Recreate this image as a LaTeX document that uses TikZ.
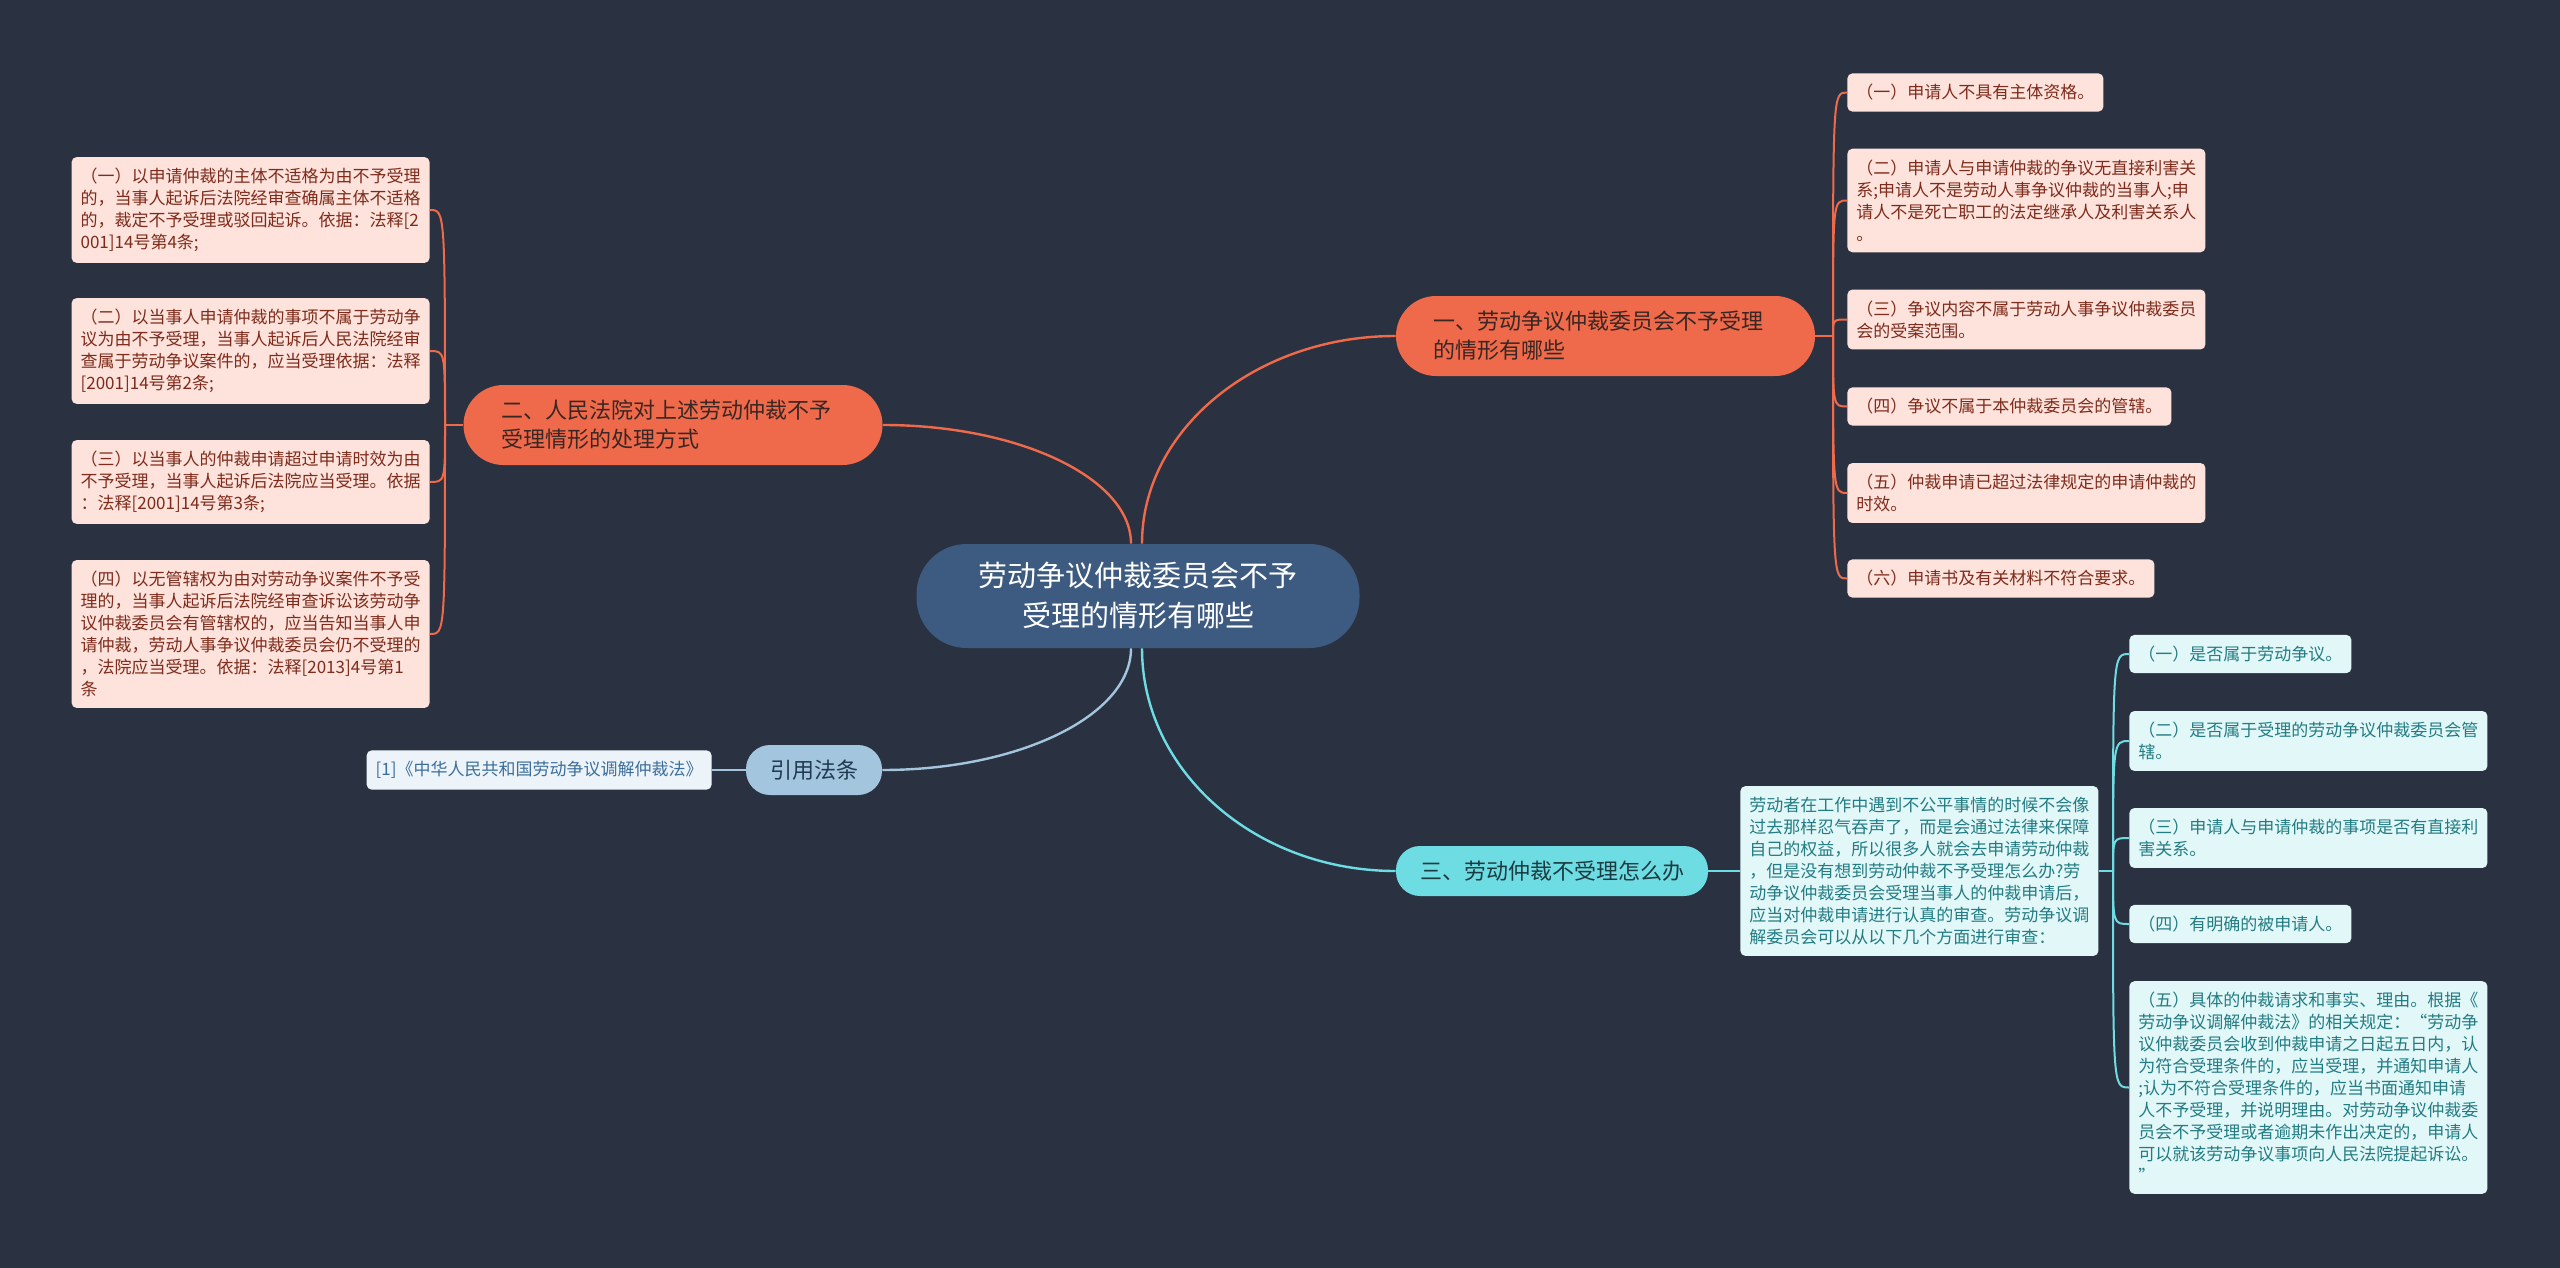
\documentclass[tikz,border=0pt]{standalone}
\usepackage{fontspec}
\setmainfont{Noto Sans CJK SC}
\usepackage{xcolor}
\definecolor{mapBg}{HTML}{2A3140}
\definecolor{mapRoot}{HTML}{3D5A80}
\definecolor{mapOrange}{HTML}{EE6A4A}
\definecolor{mapOrangeLeaf}{HTML}{FDE3DC}
\definecolor{mapOrangeText}{HTML}{7F2B1B}
\definecolor{mapOrangeDark}{HTML}{3A2623}
\definecolor{mapCyan}{HTML}{6EDCE3}
\definecolor{mapCyanLeaf}{HTML}{E2F7F8}
\definecolor{mapCyanText}{HTML}{237C83}
\definecolor{mapCyanDark}{HTML}{1C3B40}
\definecolor{mapBlue}{HTML}{A3C6DE}
\definecolor{mapBlueLeaf}{HTML}{ECF4F9}
\definecolor{mapBlueText}{HTML}{3C6E9C}
\definecolor{mapBlueDark}{HTML}{213A52}

\tikzset{
  rootnode/.style={rectangle, rounded corners=25pt, fill=mapRoot, text=white, align=center,
    minimum width=221.5pt, minimum height=52pt, font=\fontsize{14.5}{20}\selectfont},
  topicnode/.style={rectangle, rounded corners=12pt, align=left, minimum height=25pt,
    inner xsep=12pt, font=\fontsize{11}{14.5}\selectfont},
  widetopic/.style={text width=172pt, inner xsep=18.75pt, minimum height=40pt, rounded corners=20pt},
  leafnode/.style={rectangle, rounded corners=2.5pt, align=left, inner xsep=4.5pt, inner ysep=5.5pt,
    font=\fontsize{8.5}{11}\selectfont},
  orangeleaf/.style={leafnode, fill=mapOrangeLeaf, text=mapOrangeText},
  cyanleaf/.style={leafnode, fill=mapCyanLeaf, text=mapCyanText},
  wideleaf/.style={text width=170pt},
  orangeline/.style={mapOrange, line width=1.2pt},
  cyanline/.style={mapCyan, line width=1.2pt},
  blueline/.style={mapBlue, line width=1.2pt}
}

\begin{document}
\begin{tikzpicture}[x=0.5pt, y=-0.5pt]
  \fill[mapBg] (0,0) rectangle (2560,1268);

  % centre
  \node[rootnode] (root) at (1138,596) {劳动争议仲裁委员会不予\\受理的情形有哪些};

  % main topics
  \node[topicnode, widetopic, fill=mapOrange, text=mapOrangeDark] (topicA) at (1605.5,336) {一、劳动争议仲裁委员会不予受理\\的情形有哪些};
  \node[topicnode, widetopic, fill=mapOrange, text=mapOrangeDark] (topicB) at (673,425) {二、人民法院对上述劳动仲裁不予\\受理情形的处理方式};
  \node[topicnode, fill=mapCyan, text=mapCyanDark, minimum width=156pt] (topicC) at (1552,871) {三、劳动仲裁不受理怎么办};
  \node[topicnode, fill=mapBlue, text=mapBlueDark, minimum width=68pt] (topicLaw) at (814,770) {引用法条};

  % leaves of topic A
  \node[orangeleaf, anchor=west] (a1) at (1847,92.5) {（一）申请人不具有主体资格。};
  \node[orangeleaf, wideleaf, anchor=west] (a2) at (1847,200.5) {（二）申请人与申请仲裁的争议无直接利害关\\系;申请人不是劳动人事争议仲裁的当事人;申\\请人不是死亡职工的法定继承人及利害关系人\\。};
  \node[orangeleaf, wideleaf, anchor=west] (a3) at (1847,319.5) {（三）争议内容不属于劳动人事争议仲裁委员\\会的受案范围。};
  \node[orangeleaf, anchor=west] (a4) at (1847,406.5) {（四）争议不属于本仲裁委员会的管辖。};
  \node[orangeleaf, wideleaf, anchor=west] (a5) at (1847,493) {（五）仲裁申请已超过法律规定的申请仲裁的\\时效。};
  \node[orangeleaf, anchor=west] (a6) at (1847,578.5) {（六）申请书及有关材料不符合要求。};

  % leaves of topic B
  \node[orangeleaf, wideleaf, anchor=east] (b1) at (430,210) {（一）以申请仲裁的主体不适格为由不予受理\\的，当事人起诉后法院经审查确属主体不适格\\的，裁定不予受理或驳回起诉。依据：法释[2\\001]14号第4条;};
  \node[orangeleaf, wideleaf, anchor=east] (b2) at (430,351) {（二）以当事人申请仲裁的事项不属于劳动争\\议为由不予受理，当事人起诉后人民法院经审\\查属于劳动争议案件的，应当受理依据：法释\\{}[2001]14号第2条;};
  \node[orangeleaf, wideleaf, anchor=east] (b3) at (430,482) {（三）以当事人的仲裁申请超过申请时效为由\\不予受理，当事人起诉后法院应当受理。依据\\：法释[2001]14号第3条;};
  \node[orangeleaf, wideleaf, anchor=east] (b4) at (430,634) {（四）以无管辖权为由对劳动争议案件不予受\\理的，当事人起诉后法院经审查诉讼该劳动争\\议仲裁委员会有管辖权的，应当告知当事人申\\请仲裁，劳动人事争议仲裁委员会仍不受理的\\，法院应当受理。依据：法释[2013]4号第1\\条};

  % topic C
  \node[cyanleaf, wideleaf, anchor=west] (c0) at (1740,871) {劳动者在工作中遇到不公平事情的时候不会像\\过去那样忍气吞声了，而是会通过法律来保障\\自己的权益，所以很多人就会去申请劳动仲裁\\，但是没有想到劳动仲裁不予受理怎么办?劳\\动争议仲裁委员会受理当事人的仲裁申请后，\\应当对仲裁申请进行认真的审查。劳动争议调\\解委员会可以从以下几个方面进行审查：};
  \node[cyanleaf, anchor=west] (c1) at (2129,654) {（一）是否属于劳动争议。};
  \node[cyanleaf, wideleaf, anchor=west] (c2) at (2129,741) {（二）是否属于受理的劳动争议仲裁委员会管\\辖。};
  \node[cyanleaf, wideleaf, anchor=west] (c3) at (2129,838) {（三）申请人与申请仲裁的事项是否有直接利\\害关系。};
  \node[cyanleaf, anchor=west] (c4) at (2129,924) {（四）有明确的被申请人。};
  \node[cyanleaf, wideleaf, anchor=west] (c5) at (2129,1087.5) {（五）具体的仲裁请求和事实、理由。根据《\\劳动争议调解仲裁法》的相关规定：“劳动争\\议仲裁委员会收到仲裁申请之日起五日内，认\\为符合受理条件的，应当受理，并通知申请人\\;认为不符合受理条件的，应当书面通知申请\\人不予受理，并说明理由。对劳动争议仲裁委\\员会不予受理或者逾期未作出决定的，申请人\\可以就该劳动争议事项向人民法院提起诉讼。\\”};

  % law reference
  \node[leafnode, fill=mapBlueLeaf, text=mapBlueText, anchor=east] (law1) at (712,770) {[1]《中华人民共和国劳动争议调解仲裁法》};

  % root connectors
  \draw[orangeline] ([xshift=2pt]root.north) .. controls +(0,-114) and +(-140,0) .. (topicA.west);
  \draw[orangeline] ([xshift=-3.5pt]root.north) .. controls +(0,-65) and +(137,0) .. (topicB.east);
  \draw[blueline] ([xshift=-3.5pt]root.south) .. controls +(0,67) and +(137,0) .. (topicLaw.east);
  \draw[cyanline] ([xshift=2pt]root.south) .. controls +(0,123) and +(-140,0) .. (topicC.west);

  % topic A branches
  \coordinate (hubA) at (1833,336);
  \draw[orangeline, line width=1pt] (topicA.east) -- (hubA);
  \draw[orangeline, line width=1pt] (hubA) .. controls (hubA |- a1.west) .. (a1.west);
  \draw[orangeline, line width=1pt] (hubA) .. controls (hubA |- a2.west) .. (a2.west);
  \draw[orangeline, line width=1pt] (hubA) .. controls (hubA |- a3.west) .. (a3.west);
  \draw[orangeline, line width=1pt] (hubA) .. controls (hubA |- a4.west) .. (a4.west);
  \draw[orangeline, line width=1pt] (hubA) .. controls (hubA |- a5.west) .. (a5.west);
  \draw[orangeline, line width=1pt] (hubA) .. controls (hubA |- a6.west) .. (a6.west);

  % topic B branches
  \coordinate (hubB) at (445,425);
  \draw[orangeline, line width=1pt] (topicB.west) -- (hubB);
  \draw[orangeline, line width=1pt] (hubB) .. controls (hubB |- b1.east) .. (b1.east);
  \draw[orangeline, line width=1pt] (hubB) .. controls (hubB |- b2.east) .. (b2.east);
  \draw[orangeline, line width=1pt] (hubB) .. controls (hubB |- b3.east) .. (b3.east);
  \draw[orangeline, line width=1pt] (hubB) .. controls (hubB |- b4.east) .. (b4.east);

  % topic C branches
  \draw[cyanline, line width=1pt] (topicC.east) -- (c0.west);
  \coordinate (hubC) at (2113,871);
  \draw[cyanline, line width=1pt] (c0.east) -- (hubC);
  \draw[cyanline, line width=1pt] (hubC) .. controls (hubC |- c1.west) .. (c1.west);
  \draw[cyanline, line width=1pt] (hubC) .. controls (hubC |- c2.west) .. (c2.west);
  \draw[cyanline, line width=1pt] (hubC) .. controls (hubC |- c3.west) .. (c3.west);
  \draw[cyanline, line width=1pt] (hubC) .. controls (hubC |- c4.west) .. (c4.west);
  \draw[cyanline, line width=1pt] (hubC) .. controls (hubC |- c5.west) .. (c5.west);

  % law branch
  \draw[blueline, line width=1pt] (topicLaw.west) -- (law1.east);
\end{tikzpicture}
\end{document}
